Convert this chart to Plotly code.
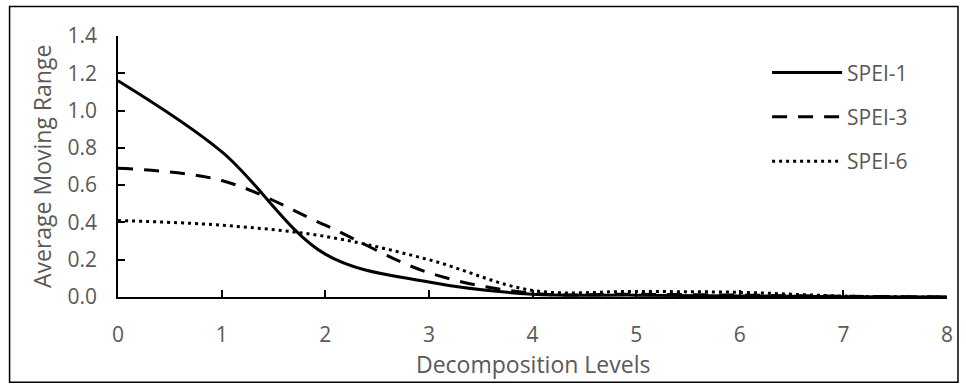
import plotly.graph_objects as go

levels = [0, 1, 2, 3, 4, 5, 6, 7, 8]
spei1 = [1.16, 0.78, 0.23, 0.08, 0.015, 0.01, 0.006, 0.002, 0.0]
spei3 = [0.69, 0.625, 0.385, 0.13, 0.02, 0.015, 0.01, 0.004, 0.0]
spei6 = [0.41, 0.385, 0.325, 0.20, 0.035, 0.03, 0.025, 0.005, 0.0]
y_ticks = [0, 0.2, 0.4, 0.6, 0.8, 1.0, 1.2, 1.4]

series = [
    ("SPEI-1", spei1, "solid", 3),
    ("SPEI-3", spei3, "15px,11px", 3),
    ("SPEI-6", spei6, "3px,4px", 3),
]

fig = go.Figure()
for i, (name, vals, dash, w) in enumerate(series):
    fig.add_trace(go.Scatter(
        x=levels, y=vals, name=name, mode="lines",
        line=dict(color="black", width=w, dash=dash, shape="spline", smoothing=1.0),
        legendgroup=f"g{i}",
    ))

font_family = "Open Sans, Lato, sans-serif"
grey = "#595959"

L, R, T, B = 117.5, 19, 35.6, 92.3
W, H = 966, 389
pw = W - L - R
ph = H - T - B

def px_to_paper_x(px):
    return (px - L) / pw

def px_to_paper_y(py):
    return (H - B - py) / ph

fig.update_layout(
    width=W, height=H,
    margin=dict(l=L, r=R, t=T, b=B, pad=0),
    paper_bgcolor="white", plot_bgcolor="white",
    font=dict(family=font_family, color=grey, size=21),
    showlegend=True,
    legend=dict(
        x=px_to_paper_x(767), y=px_to_paper_y(52), xanchor="left", yanchor="top",
        bgcolor="rgba(0,0,0,0)", font=dict(size=21, color=grey, family=font_family),
        itemwidth=70, tracegroupgap=14, traceorder="grouped",
    ),
    xaxis=dict(
        range=[0, 8], tickvals=levels, ticktext=[str(v) for v in levels],
        showgrid=False, zeroline=False, showline=True, linecolor="black", linewidth=1.5,
        ticks="inside", ticklen=7, tickwidth=1.5, tickcolor="black",
        tickfont=dict(size=21, color=grey), ticklabelstandoff=18,
        fixedrange=True,
    ),
    yaxis=dict(
        range=[0, 1.4], tickvals=y_ticks,
        tickformat=".1f",
        showgrid=False, zeroline=False, showline=True, linecolor="black", linewidth=1.5,
        ticks="inside", ticklen=7, tickwidth=1.5, tickcolor="black",
        tickfont=dict(size=21, color=grey), ticklabelstandoff=15,
        fixedrange=True,
    ),
    annotations=[
        dict(text="Decomposition Levels", xref="paper", yref="paper",
             x=0.5, y=px_to_paper_y(364), xanchor="center", yanchor="middle",
             showarrow=False, font=dict(size=23, color=grey, family=font_family)),
        dict(text="Average Moving Range", xref="paper", yref="paper",
             x=px_to_paper_x(41), y=0.5, xanchor="center", yanchor="middle",
             textangle=-90, showarrow=False,
             font=dict(size=23, color=grey, family=font_family)),
    ],
    shapes=[dict(
        type="rect", xref="paper", yref="paper",
        x0=px_to_paper_x(9), x1=px_to_paper_x(958),
        y0=px_to_paper_y(382), y1=px_to_paper_y(6),
        line=dict(color="black", width=1.5), fillcolor="rgba(0,0,0,0)", layer="below",
    )],
)

fig.write_html("out.html")
